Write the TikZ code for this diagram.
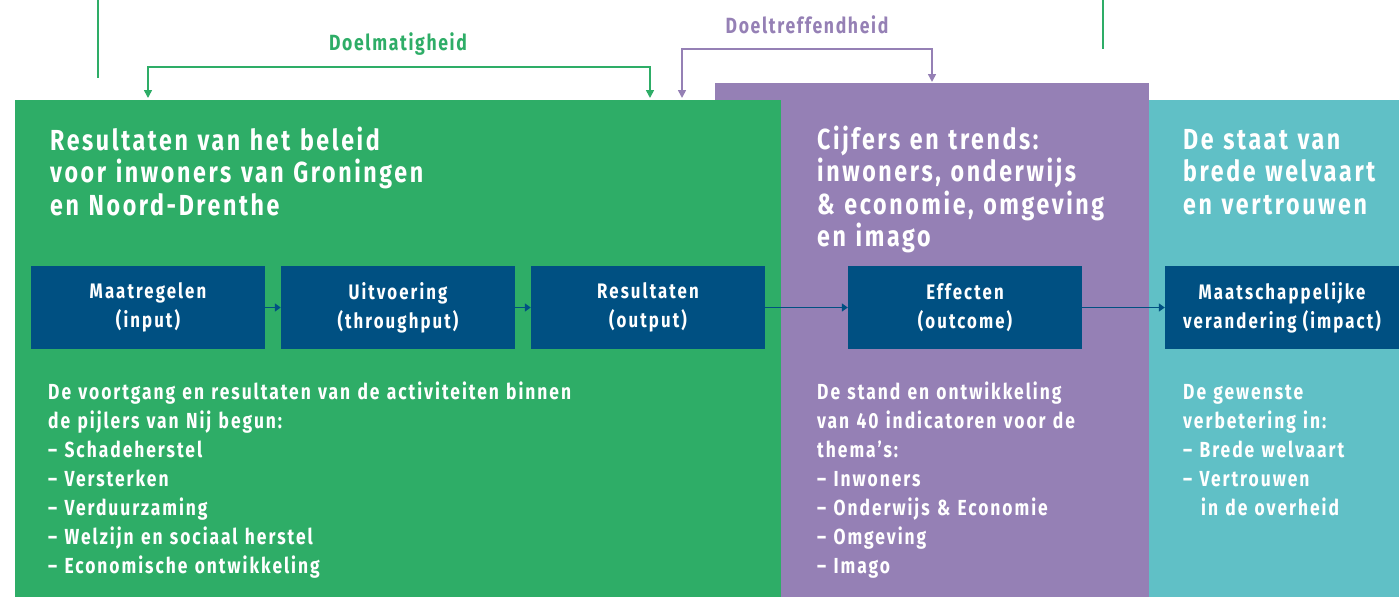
\documentclass[tikz,border=0pt]{standalone}
\usepackage{fontspec}
\setmainfont{Fira Sans}[FakeStretch=0.8,LetterSpace=9]
\newfontfamily\stapfont{Fira Sans}[FakeStretch=0.8,LetterSpace=10]
\newfontfamily\etiketfont{Fira Sans}[FakeStretch=0.8,LetterSpace=7.5]
\usetikzlibrary{arrows.meta}
\definecolor{groen}{RGB}{46,173,103}
\definecolor{paars}{RGB}{149,128,181}
\definecolor{turkoois}{RGB}{96,192,198}
\definecolor{blauw}{RGB}{0,80,130}
\begin{document}
\begin{tikzpicture}[x=1pt,y=1pt,yscale=-1,
  stap/.style={fill=blauw,text=white,minimum width=234pt,minimum height=83pt,inner sep=0pt,align=center,font=\stapfont\fontsize{21}{29}\selectfont\bfseries},
  kop/.style={anchor=base west,inner sep=0pt,text=white,text width=#1,align=left,font=\fontsize{29}{32.5}\selectfont\bfseries},
  tekst/.style={anchor=base west,inner sep=0pt,text=white,text width=#1,align=left,font=\fontsize{21.8}{29}\selectfont\bfseries},
  etiket/.style={anchor=base,inner sep=0pt,font=\etiketfont\fontsize{22}{26}\selectfont\bfseries},
  pijl/.style={blauw,line width=1.5pt,-{Triangle[length=6pt,width=8pt]}},
  haak/.style={line width=1.6pt,{Triangle[length=8pt,width=8pt]}-{Triangle[length=8pt,width=8pt]}}]
\useasboundingbox (0,0) rectangle (1399,597);

%Shape: Rectangle
\fill[paars] (715,83) rectangle (1149,597);
%Shape: Rectangle
\fill[groen] (15,100) rectangle (781,597);
%Shape: Rectangle
\fill[turkoois] (1149,100) rectangle (1399,597);

%Straight Lines
\draw[groen,line width=1.6pt] (98,0) -- (98,78);
\draw[groen,line width=1.6pt] (1103,0) -- (1103,49);

% Text Node
\node[etiket,text=groen] (doelmatigheid) at (398,50) {Doelmatigheid};
\node[etiket,text=paars] (doeltreffendheid) at (807,33) {Doeltreffendheid};

\coordinate (dmL) at (148,98);
\coordinate (dmR) at (650,98);
\coordinate (dtL) at (682,98);
\coordinate (dtR) at (932,82);
%Connector Lines
\draw[haak,groen] (dmL) -- (148,67) -- (650,67) -- (dmR);
\draw[haak,paars] (dtL) -- (682,49) -- (932,49) -- (dtR);

% Text Node
\node[kop=700pt] (kopgroen) at (50,150) {Resultaten van het beleid\\voor inwoners van Groningen\\en Noord-Drenthe};
\node[kop=330pt] (koppaars) at (817,149) {Cijfers en trends:\\inwoners, onderwijs\\\& economie, omgeving\\en imago};
\node[kop=215pt] (kopturkoois) at (1183,149) {De staat van\\brede welvaart\\en vertrouwen};

%Shape: Rectangle
\node[stap] (input) at (148,307.5) {Maatregelen\\(input)};
\node[stap] (throughput) at (398,307.5) {Uitvoering\\(throughput)};
\node[stap] (output) at (648,307.5) {Resultaten\\(output)};
\node[stap] (outcome) at (965,307.5) {Effecten\\(outcome)};
\node[stap] (impact) at (1282,307.5) {Maatschappelijke\\verandering (impact)};

%Connector Lines
\draw[pijl] (input) -- (throughput);
\draw[pijl] (throughput) -- (output);
\draw[pijl] (output) -- (outcome);
\draw[pijl] (outcome) -- (impact);

% Text Node
\node[tekst=720pt] (tekstgroen) at (48,399) {De voortgang en resultaten van de activiteiten binnen\\de pijlers van Nij begun:\\– Schadeherstel\\– Versterken\\– Verduurzaming\\– Welzijn en sociaal herstel\\– Economische ontwikkeling};
\node[tekst=320pt] (tekstpaars) at (817,399) {De stand en ontwikkeling\\van 40 indicatoren voor de\\thema’s:\\– Inwoners\\– Onderwijs \& Economie\\– Omgeving\\– Imago};
\node[tekst=210pt] (tekstturkoois) at (1183,399) {De gewenste\\verbetering in:\\– Brede welvaart\\– Vertrouwen\\\hspace*{18pt}in de overheid};

\end{tikzpicture}
\end{document}
